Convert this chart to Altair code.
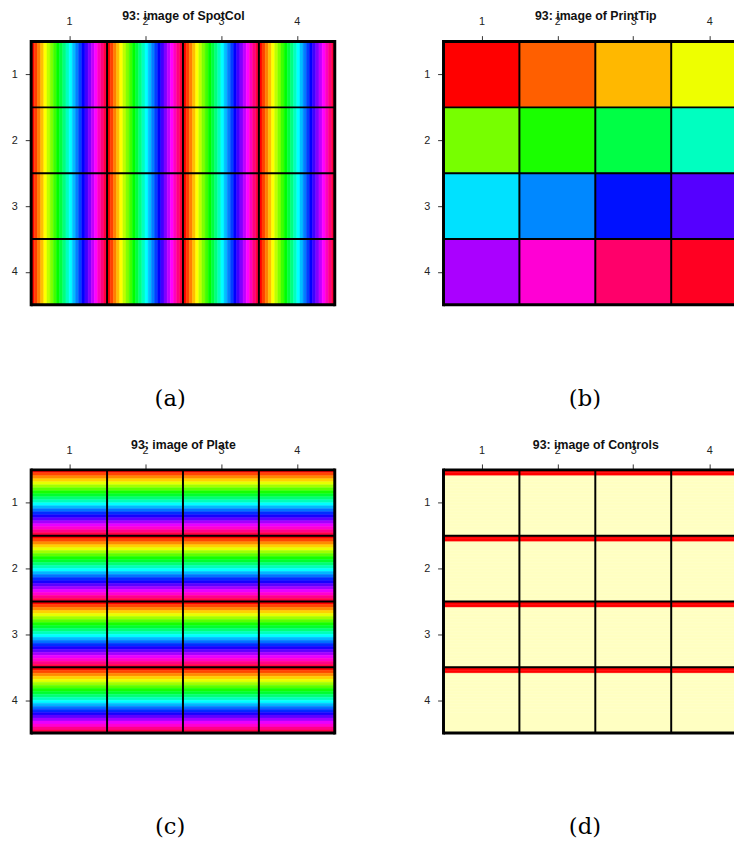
import altair as alt
import pandas as pd

# ---------------- data ----------------
TIP_ROWS = [1, 2, 3, 4]
TIP_COLS = [1, 2, 3, 4]
N_SPOT_ROWS = 22
N_SPOT_COLS = 24

SPOTCOL_COLORS = [
    "#FF0000", "#FF4000", "#FF8000", "#FFBF00", "#FFFF00", "#BFFF00",
    "#80FF00", "#40FF00", "#00FF00", "#00FF40", "#00FF80", "#00FFBF",
    "#00FFFF", "#00BFFF", "#0080FF", "#0040FF", "#0000FF", "#4000FF",
    "#8000FF", "#BF00FF", "#FF00FF", "#FF00BF", "#FF0080", "#FF0040",
]
PLATE_COLORS = [
    "#FF0000", "#FF4600", "#FF8B00", "#FFD100", "#E8FF00", "#A2FF00",
    "#5DFF00", "#17FF00", "#00FF2E", "#00FF74", "#00FFB9", "#00FFFF",
    "#00B9FF", "#0074FF", "#002EFF", "#1700FF", "#5D00FF", "#A200FF",
    "#E800FF", "#FF00D1", "#FF008B", "#FF0046",
]
PRINTTIP_COLORS = [
    "#FF0000", "#FF5F00", "#FFB800", "#EEFF00",
    "#77FF00", "#1AFF00", "#00FF45", "#00FFC0",
    "#00E1FF", "#0088FF", "#0011FF", "#5500FF",
    "#AA00FF", "#FF00D4", "#FF006A", "#FF0022",
]
CONTROL_SPOT_ROWS = [1, 2]
CONTROL_COLOR = "#FF0000"
GENE_COLOR = "#FFFFC2"

TITLES = ["93: image of SpotCol", "93: image of PrintTip",
          "93: image of Plate", "93: image of Controls"]
CAPTIONS = ["(a)", "(b)", "(c)", "(d)"]

# ---------------- tables ----------------
def spotcol_table():
    rows = []
    for r in TIP_ROWS:
        for c in TIP_COLS:
            for j in range(N_SPOT_COLS):
                rows.append(dict(x=c - 0.5 + j / N_SPOT_COLS,
                                 x2=c - 0.5 + (j + 1) / N_SPOT_COLS,
                                 y=r - 0.5, y2=r + 0.5,
                                 color=SPOTCOL_COLORS[j]))
    return pd.DataFrame(rows)


def printtip_table():
    rows = []
    k = 0
    for r in TIP_ROWS:
        for c in TIP_COLS:
            rows.append(dict(x=c - 0.5, x2=c + 0.5, y=r - 0.5, y2=r + 0.5,
                             color=PRINTTIP_COLORS[k]))
            k += 1
    return pd.DataFrame(rows)


def rows_table(color_of_row):
    rows = []
    for r in TIP_ROWS:
        for c in TIP_COLS:
            for i in range(N_SPOT_ROWS):
                rows.append(dict(x=c - 0.5, x2=c + 0.5,
                                 y=r - 0.5 + i / N_SPOT_ROWS,
                                 y2=r - 0.5 + (i + 1) / N_SPOT_ROWS,
                                 color=color_of_row(i)))
    return pd.DataFrame(rows)


LO, HI = TIP_COLS[0] - 0.5, TIP_COLS[-1] + 0.5


def visible_part(df, xmax):
    """Keep only what lies inside the visible window of a panel."""
    out = df[df["x"] < xmax].copy()
    out["x2"] = out["x2"].clip(upper=xmax)
    return out


def vertical_borders(xmax):
    rows = []
    for k in range(len(TIP_COLS) + 1):
        v = LO + k
        if v > xmax:
            continue
        w = 3 if k in (0, len(TIP_COLS)) else 2
        rows.append(dict(x=v, y=LO, y2=HI, w=w))
    return pd.DataFrame(rows)


def horizontal_borders(xmax):
    rows = []
    for k in range(len(TIP_ROWS) + 1):
        v = LO + k
        w = 3 if k in (0, len(TIP_ROWS)) else 2
        rows.append(dict(y=v, x=LO, x2=min(HI, xmax), w=w))
    return pd.DataFrame(rows)


TABLES = [
    spotcol_table(),
    printtip_table(),
    rows_table(lambda i: PLATE_COLORS[i]),
    rows_table(lambda i: CONTROL_COLOR if (i + 1) in CONTROL_SPOT_ROWS else GENE_COLOR),
]

PANEL_W = 308          # full width of one panel (4 print-tip columns)
PANEL_H = 267
RIGHT_VISIBLE_W = 295  # right-hand panels run off the page edge


def panel(df, title, caption, width, cap_dx):
    xmax = LO + (HI - LO) * width / PANEL_W
    xs = alt.Scale(domain=[LO, xmax], nice=False, zero=False)
    ys = alt.Scale(domain=[LO, HI], nice=False, zero=False, reverse=True)
    xaxis = alt.Axis(orient="top", values=[1, 2, 3, 4], format="d", grid=False,
                     domain=False, title=title, titleY=-22,
                     titleBaseline="alphabetic", titleX=PANEL_W / 2,
                     titleFont="Liberation Sans", titleFontSize=12.5,
                     titleFontWeight="bold", titleColor="#111111",
                     labelPadding=9)
    yaxis = alt.Axis(values=[1, 2, 3, 4], format="d", grid=False, domain=False,
                     title=None, labelPadding=8)
    rects = alt.Chart(visible_part(df, xmax)).mark_rect(strokeWidth=0.5, clip=True).encode(
        x=alt.X("x:Q", scale=xs, axis=xaxis),
        x2="x2:Q",
        y=alt.Y("y:Q", scale=ys, axis=yaxis),
        y2="y2:Q",
        color=alt.Color("color:N", scale=None),
        stroke=alt.Stroke("color:N", scale=None),
    )
    vlines = alt.Chart(vertical_borders(xmax)).mark_rule(
        color="black", strokeCap="square").encode(
        x="x:Q", y="y:Q", y2="y2:Q",
        strokeWidth=alt.StrokeWidth("w:Q", scale=None),
    )
    hlines = alt.Chart(horizontal_borders(xmax)).mark_rule(
        color="black", strokeCap="butt").encode(
        x="x:Q", x2="x2:Q", y="y:Q",
        strokeWidth=alt.StrokeWidth("w:Q", scale=None),
    )
    return alt.layer(rects, vlines, hlines).properties(
        width=width, height=PANEL_H,
        title=alt.TitleParams(text=caption, orient="bottom", offset=82.5, dx=cap_dx,
                              font="DejaVu Serif", fontSize=23,
                              fontWeight="normal", color="black"),
    )


WIDTHS = [PANEL_W, RIGHT_VISIBLE_W, PANEL_W, RIGHT_VISIBLE_W]
CAP_DX = [-13, -4, -13, -4]
panels = [panel(TABLES[k], TITLES[k], CAPTIONS[k], WIDTHS[k], CAP_DX[k])
          for k in range(4)]

chart = alt.vconcat(
    alt.hconcat(panels[0], panels[1], spacing=86.3),
    alt.hconcat(panels[2], panels[3], spacing=86.3),
    spacing=27.5,
).properties(
    padding={"left": 2.5, "top": -4, "right": -2, "bottom": -1.5},
    background="white",
).configure_view(stroke=None).configure_axis(
    labelFont="Liberation Sans", labelFontSize=11, labelColor="#222222",
    tickColor="#333333", tickSize=6, tickWidth=1,
)

chart.save("out.html", embed_options={"renderer": "svg", "actions": False})
